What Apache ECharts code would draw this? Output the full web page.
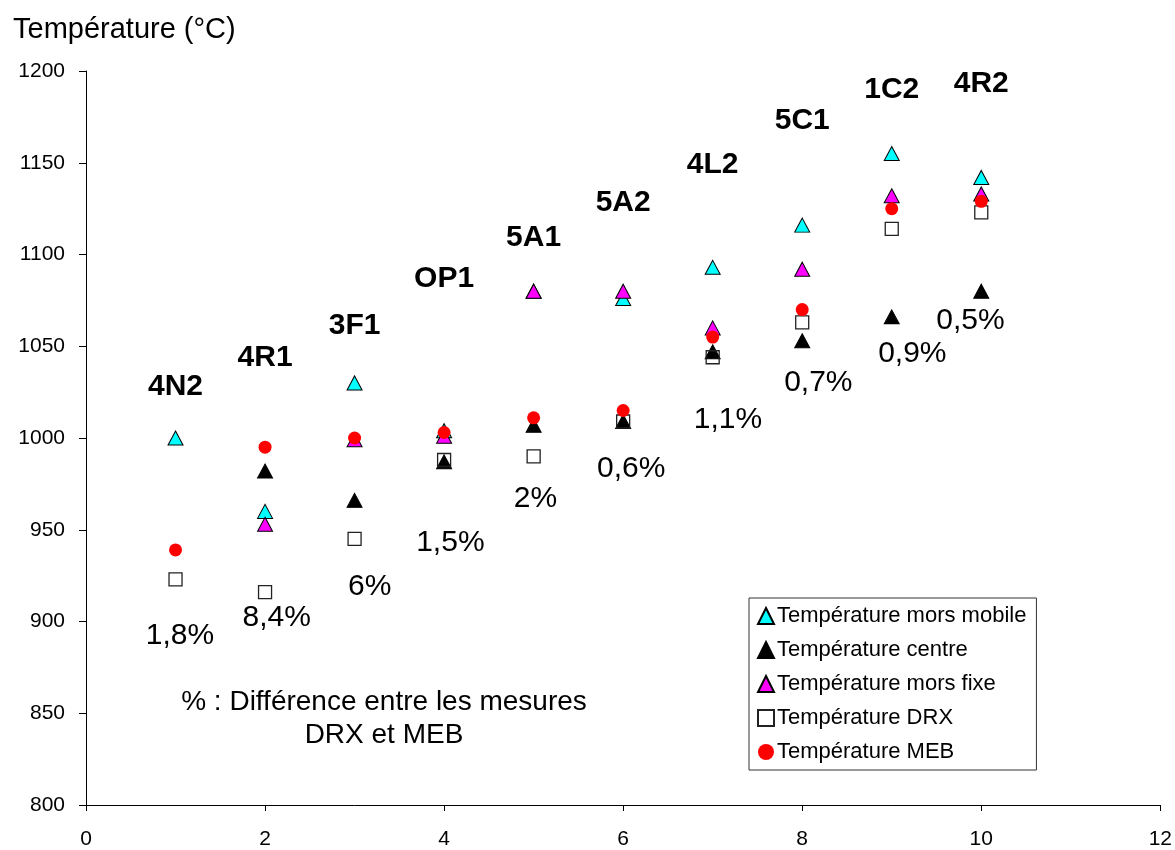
<!DOCTYPE html>
<html>
<head>
<meta charset="utf-8">
<script src="https://cdn.jsdelivr.net/npm/echarts@6/dist/echarts.min.js"></script>
<style>
  html, body { margin: 0; padding: 0; background: #fff; }
  #main { width: 1175px; height: 850px; }
</style>
</head>
<body>
<div id="main"></div>
<script>
// essais (abscisse) et températures mesurées
const essais = [1, 2, 3, 4, 5, 6, 7, 8, 9, 10];
const tMorsMobile = [1000, 960, 1030, 1004, 1080, 1076, 1093, 1116, 1155, 1142];
const tCentre = [null, 982, 966, 987, 1007, 1009, 1047, 1053, 1066, 1080];
const tMorsFixe = [null, 953, 999, 1001, 1080, 1080, 1060, 1092, 1132, 1133];
const tDRX = [923, 916, 945, 988, 990, 1009, 1044, 1063, 1114, 1123];
const tMEB = [939, 995, 1000, 1003, 1011, 1015, 1055, 1070, 1125, 1129];

// noms des échantillons + où les écrire (repère des données)
const noms = ['4N2', '4R1', '3F1', 'OP1', '5A1', '5A2', '4L2', '5C1', '1C2', '4R2'];
const nomsY = [1028, 1044, 1061, 1087, 1109, 1128, 1149, 1173, 1190, 1193];

// écarts DRX / MEB
const ecarts = ['1,8%', '8,4%', '6%', '1,5%', '2%', '0,6%', '1,1%', '0,7%', '0,9%', '0,5%'];
const ecartsX = [1.05, 2.13, 3.17, 4.07, 5.02, 6.09, 7.17, 8.18, 9.23, 9.88];
const ecartsY = [892, 902, 919, 943, 967, 983, 1010, 1030, 1046, 1064];

const font = '"Liberation Sans", Arial, sans-serif';

function pts(vals) {
  return essais.map((x, i) => [x, vals[i]]);
}

const chart = echarts.init(document.getElementById('main'));

chart.setOption({
  backgroundColor: '#fff',
  animation: false,
  textStyle: { fontFamily: font },
  grid: { left: 86, right: 14, top: 71, bottom: 43 },
  title: {
    text: 'Température (°C)',
    left: 8,
    top: 10,
    textStyle: { fontFamily: font, fontSize: 29, fontWeight: 'normal', color: '#000' }
  },
  legend: {
    orient: 'vertical',
    left: 749,
    top: 598,
    padding: [7, 10, 7, 8],
    itemWidth: 16,
    itemHeight: 16,
    itemGap: 12,
    borderColor: '#333',
    borderWidth: 1,
    backgroundColor: '#fff',
    data: ['Température mors mobile', 'Température centre', 'Température mors fixe', 'Température DRX', 'Température MEB'],
    textStyle: { fontFamily: font, fontSize: 22, color: '#000', padding: [0, 0, 0, -2] }
  },
  xAxis: {
    type: 'value',
    min: 0,
    max: 12,
    interval: 2,
    splitLine: { show: false },
    axisLine: { lineStyle: { color: '#000', width: 1 } },
    axisTick: { length: 6, lineStyle: { color: '#000' } },
    axisLabel: { fontFamily: font, fontSize: 21, color: '#000', margin: 24 }
  },
  yAxis: {
    type: 'value',
    min: 800,
    max: 1200,
    interval: 50,
    splitLine: { show: false },
    axisLine: { show: true, onZero: false, lineStyle: { color: '#000', width: 1 } },
    axisTick: { show: true, length: 7, lineStyle: { color: '#000' } },
    axisLabel: { fontFamily: font, fontSize: 21, color: '#000', margin: 21, formatter: v => String(v) }
  },
  series: [
    {
      name: 'Température mors mobile',
      type: 'scatter',
      symbol: 'triangle',
      symbolSize: [15, 14],
      itemStyle: { color: '#00ffff', borderColor: '#000', borderWidth: 1, opacity: 1 },
      data: pts(tMorsMobile)
    },
    {
      name: 'Température centre',
      type: 'scatter',
      symbol: 'triangle',
      symbolSize: [15, 14],
      itemStyle: { color: '#000', borderColor: '#000', borderWidth: 1, opacity: 1 },
      data: pts(tCentre)
    },
    {
      name: 'Température mors fixe',
      type: 'scatter',
      symbol: 'triangle',
      symbolSize: [15, 14],
      itemStyle: { color: '#ff00ff', borderColor: '#000', borderWidth: 1, opacity: 1 },
      data: pts(tMorsFixe)
    },
    {
      name: 'Température DRX',
      type: 'scatter',
      symbol: 'rect',
      symbolSize: 13,
      itemStyle: { color: 'rgba(255,255,255,0)', borderColor: '#222', borderWidth: 1.3, opacity: 1 },
      data: pts(tDRX)
    },
    {
      name: 'Température MEB',
      type: 'scatter',
      symbol: 'circle',
      symbolSize: 13,
      itemStyle: { color: '#ff0000', opacity: 1 },
      data: pts(tMEB)
    },
    {
      // noms des essais, en gras
      type: 'scatter',
      silent: true,
      symbolSize: 0,
      itemStyle: { opacity: 1 },
      label: {
        show: true,
        position: 'inside',
        formatter: p => p.data.name,
        fontFamily: font,
        fontSize: 30,
        fontWeight: 'bold',
        color: '#000'
      },
      data: noms.map((n, i) => ({ name: n, value: [essais[i], nomsY[i]] }))
    },
    {
      // écarts en %
      type: 'scatter',
      silent: true,
      symbolSize: 0,
      itemStyle: { opacity: 1 },
      label: {
        show: true,
        position: 'inside',
        formatter: p => p.data.name,
        fontFamily: font,
        fontSize: 30,
        color: '#000'
      },
      data: ecarts.map((e, i) => ({ name: e, value: [ecartsX[i], ecartsY[i]] }))
    }
  ],
  graphic: [
    {
      type: 'text',
      x: 384,
      y: 686,
      style: {
        text: '% : Différence entre les mesures\nDRX et MEB',
        font: '28px ' + font,
        fill: '#000',
        textAlign: 'center',
        lineHeight: 33
      }
    }
  ]
});
</script>
</body>
</html>
